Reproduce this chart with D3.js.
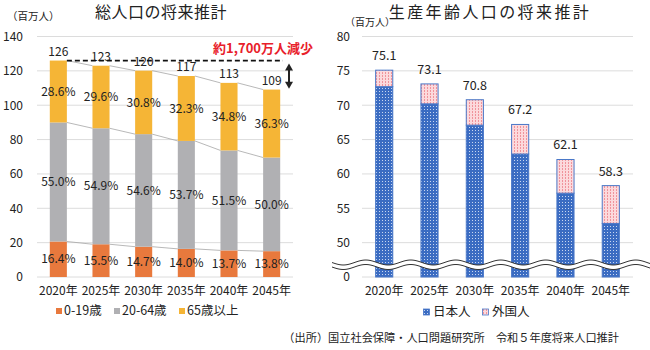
<!DOCTYPE html>
<html>
<head>
<meta charset="utf-8">
<script src="https://cdn.jsdelivr.net/npm/d3@7"></script>
<style>
  body { margin: 0; background: #fff; }
  svg text { font-family: "Noto Sans CJK JP", "Noto Sans", sans-serif; fill: #222; }
</style>
</head>
<body>
<svg id="chart" width="650" height="350"></svg>
<script>
// data
const years = ["2020年", "2025年", "2030年", "2035年", "2040年", "2045年"];
const totals = [126, 123, 120, 117, 113, 109];
const pctYoung = [16.4, 15.5, 14.7, 14.0, 13.7, 13.8];
const pctWork = [55.0, 54.9, 54.6, 53.7, 51.5, 50.0];
const pctOld = [28.6, 29.6, 30.8, 32.3, 34.8, 36.3];
const ageLabels = ["0-19歳", "20-64歳", "65歳以上"];
const leftTicks = [0, 20, 40, 60, 80, 100, 120, 140];

const workTotals = [75.1, 73.1, 70.8, 67.2, 62.1, 58.3];
const japanese = [72.7, 70.2, 67.1, 62.9, 57.2, 52.8];
const foreign = [2.4, 2.9, 3.7, 4.3, 4.9, 5.5];
const natLabels = ["日本人", "外国人"];
const rightTicks = [50, 55, 60, 65, 70, 75, 80];

const svg = d3.select("#chart");
const ageColors = ["#e8793d", "#b0b0b3", "#f5b536"];

// patterns for the right chart
const defs = svg.append("defs");
const pBlue = defs.append("pattern").attr("id", "pBlue").attr("patternUnits", "userSpaceOnUse")
  .attr("width", 3).attr("height", 3);
pBlue.append("rect").attr("width", 3).attr("height", 3).attr("fill", "#3b6cc2");
pBlue.append("rect").attr("x", 1).attr("y", 1).attr("width", 1).attr("height", 1).attr("fill", "#c9d7f0");
const pPink = defs.append("pattern").attr("id", "pPink").attr("patternUnits", "userSpaceOnUse")
  .attr("width", 3).attr("height", 3);
pPink.append("rect").attr("width", 3).attr("height", 3).attr("fill", "#fcd9dc");
pPink.append("rect").attr("x", 1).attr("y", 0).attr("width", 1).attr("height", 2).attr("fill", "#f0939b");

// ---------- left chart ----------
const xL = d3.scaleBand().domain(years).range([37, 293]).paddingInner(0.6).paddingOuter(0.3);
const yL = d3.scaleLinear().domain([0, 140]).range([277, 36.5]);

svg.append("g").selectAll("line").data(leftTicks).join("line")
  .attr("x1", 37).attr("x2", 293).attr("y1", d => yL(d)).attr("y2", d => yL(d))
  .attr("stroke", "#dcdcdc").attr("stroke-width", 1);

const stacked = years.map((yr, i) => {
  const v = [totals[i] * pctYoung[i] / 100, totals[i] * pctWork[i] / 100, totals[i] * pctOld[i] / 100];
  const p = [pctYoung[i], pctWork[i], pctOld[i]];
  let acc = 0;
  return v.map((val, k) => { const seg = { yr, k, y0: acc, y1: acc + val, pct: p[k] }; acc += val; return seg; });
});

// series lines between bars
for (let k = 0; k < 3; k++) {
  for (let i = 0; i < years.length - 1; i++) {
    svg.append("line")
      .attr("x1", xL(years[i]) + xL.bandwidth()).attr("y1", yL(stacked[i][k].y1))
      .attr("x2", xL(years[i + 1])).attr("y2", yL(stacked[i + 1][k].y1))
      .attr("stroke", "#a6a6a6").attr("stroke-width", 0.8);
  }
}

svg.append("g").selectAll("rect").data(stacked.flat()).join("rect")
  .attr("x", d => xL(d.yr)).attr("width", xL.bandwidth())
  .attr("y", d => yL(d.y1)).attr("height", d => yL(d.y0) - yL(d.y1))
  .attr("fill", d => ageColors[d.k]);

svg.append("g").selectAll("text").data(stacked.flat()).join("text")
  .attr("x", d => xL(d.yr) + xL.bandwidth() / 2).attr("y", d => yL((d.y0 + d.y1) / 2))
  .attr("dy", "0.35em").attr("text-anchor", "middle").attr("font-size", 12)
  .text(d => d.pct.toFixed(1) + "%");

svg.append("g").selectAll("text").data(totals).join("text")
  .attr("x", (d, i) => xL(years[i]) + xL.bandwidth() / 2).attr("y", d => yL(d) - 5)
  .attr("text-anchor", "middle").attr("font-size", 12).text(d => d);

// dashed reference line and arrow
svg.append("line")
  .attr("x1", xL(years[0]) + xL.bandwidth()).attr("x2", 283)
  .attr("y1", yL(totals[0])).attr("y2", yL(totals[0]))
  .attr("stroke", "#111").attr("stroke-width", 1.8).attr("stroke-dasharray", "5,3");
const ax = 289, aTop = yL(totals[0]) + 3, aBot = yL(totals[5]) - 1;
svg.append("line").attr("x1", ax).attr("x2", ax).attr("y1", aTop + 5).attr("y2", aBot - 5)
  .attr("stroke", "#222").attr("stroke-width", 2);
svg.append("path").attr("d", `M${ax - 4},${aTop + 7}L${ax},${aTop}L${ax + 4},${aTop + 7}Z`).attr("fill", "#222");
svg.append("path").attr("d", `M${ax - 4},${aBot - 7}L${ax},${aBot}L${ax + 4},${aBot - 7}Z`).attr("fill", "#222");
svg.append("text").attr("x", 313).attr("y", 53).attr("text-anchor", "end")
  .attr("font-size", 13).attr("font-weight", "bold").style("fill", "#e8202a").text("約1,700万人減少");

const axL = svg.append("g").attr("transform", "translate(37,0)")
  .call(d3.axisLeft(yL).tickValues(leftTicks).tickSize(0).tickPadding(14));
axL.select(".domain").remove();
axL.selectAll("text").attr("font-size", 12).attr("font-family", null);

const axBL = svg.append("g").attr("transform", "translate(0,277)")
  .call(d3.axisBottom(xL).tickSize(0).tickPadding(9));
axBL.select(".domain").remove();
axBL.selectAll("text").attr("font-size", 12).attr("font-family", null);

svg.append("text").attr("x", 161).attr("y", 18).attr("text-anchor", "middle")
  .attr("font-size", 16).attr("letter-spacing", 0.5).text("総人口の将来推計");
svg.append("text").attr("x", 7).attr("y", 20).attr("font-size", 10.5).text("（百万人）");

const legL = svg.append("g").selectAll("g").data(ageLabels).join("g")
  .attr("transform", (d, i) => `translate(${[56, 114, 179][i]},311)`);
legL.append("rect").attr("x", 0).attr("y", -3).attr("width", 6).attr("height", 6).attr("fill", (d, i) => ageColors[i]);
legL.append("text").attr("x", 8).attr("dy", "0.35em").attr("font-size", 12.5).text(d => d);

// ---------- right chart ----------
const xR = d3.scaleBand().domain(years).range([362, 633]).paddingInner(0.6).paddingOuter(0.29);
const yR = d3.scaleLinear().domain([45, 80]).range([277, 36.5]);

svg.append("g").selectAll("line").data([45].concat(rightTicks)).join("line")
  .attr("x1", 362).attr("x2", 633).attr("y1", d => yR(d)).attr("y2", d => yR(d))
  .attr("stroke", "#dcdcdc").attr("stroke-width", 1);

const rBars = years.map((yr, i) => [
  { yr, y0: 45, y1: japanese[i], fill: "url(#pBlue)" },
  { yr, y0: japanese[i], y1: japanese[i] + foreign[i], fill: "url(#pPink)" }
]).flat();

svg.append("g").selectAll("rect").data(rBars).join("rect")
  .attr("x", d => xR(d.yr) + 0.5).attr("width", xR.bandwidth() - 1)
  .attr("y", d => yR(d.y1)).attr("height", d => yR(d.y0) - yR(d.y1))
  .attr("fill", d => d.fill).attr("stroke", "#4a78c8").attr("stroke-width", 1);

svg.append("g").selectAll("text").data(workTotals).join("text")
  .attr("x", (d, i) => xR(years[i]) + xR.bandwidth() / 2).attr("y", d => yR(d) - 10)
  .attr("text-anchor", "middle").attr("font-size", 12.5).text(d => d.toFixed(1));

// axis break
const waveTop = d3.range(332, 651, 2).map(x => [x, 262.5 + 2.5 * Math.sin((x - 332) / 45 * 2 * Math.PI)]);
const waveBot = waveTop.map(([x, y]) => [x, y + 4.5]);
const line = d3.line();
svg.append("path").attr("d", line(waveTop.concat(waveBot.slice().reverse())) + "Z").attr("fill", "#fff");
svg.append("path").attr("d", line(waveTop)).attr("fill", "none").attr("stroke", "#333").attr("stroke-width", 1);
svg.append("path").attr("d", line(waveBot)).attr("fill", "none").attr("stroke", "#333").attr("stroke-width", 1);

const axR = svg.append("g").attr("transform", "translate(362,0)")
  .call(d3.axisLeft(yR).tickValues([45].concat(rightTicks)).tickFormat(d => d === 45 ? "0" : d).tickSize(0).tickPadding(12));
axR.select(".domain").remove();
axR.selectAll("text").attr("font-size", 12).attr("font-family", null);

const axBR = svg.append("g").attr("transform", "translate(0,277)")
  .call(d3.axisBottom(xR).tickSize(0).tickPadding(9));
axBR.select(".domain").remove();
axBR.selectAll("text").attr("font-size", 12).attr("font-family", null);

svg.append("text").attr("x", 490).attr("y", 18).attr("text-anchor", "middle")
  .attr("font-size", 16).attr("letter-spacing", 2.4).text("生産年齢人口の将来推計");
svg.append("text").attr("x", 345).attr("y", 26).attr("font-size", 10).text("（百万人）");

const legR = svg.append("g").selectAll("g").data(natLabels).join("g")
  .attr("transform", (d, i) => `translate(${[423, 482][i]},312)`);
legR.append("rect").attr("x", 0.5).attr("y", -3).attr("width", 6).attr("height", 6)
  .attr("fill", (d, i) => i === 0 ? "url(#pBlue)" : "url(#pPink)").attr("stroke", "#4a78c8").attr("stroke-width", 0.8);
legR.append("text").attr("x", 10).attr("dy", "0.35em").attr("font-size", 12.5).text(d => d);

svg.append("text").attr("x", 619).attr("y", 342).attr("text-anchor", "end").attr("font-size", 11.2)
  .text("（出所）国立社会保障・人口問題研究所　令和５年度将来人口推計");
</script>
</body>
</html>
